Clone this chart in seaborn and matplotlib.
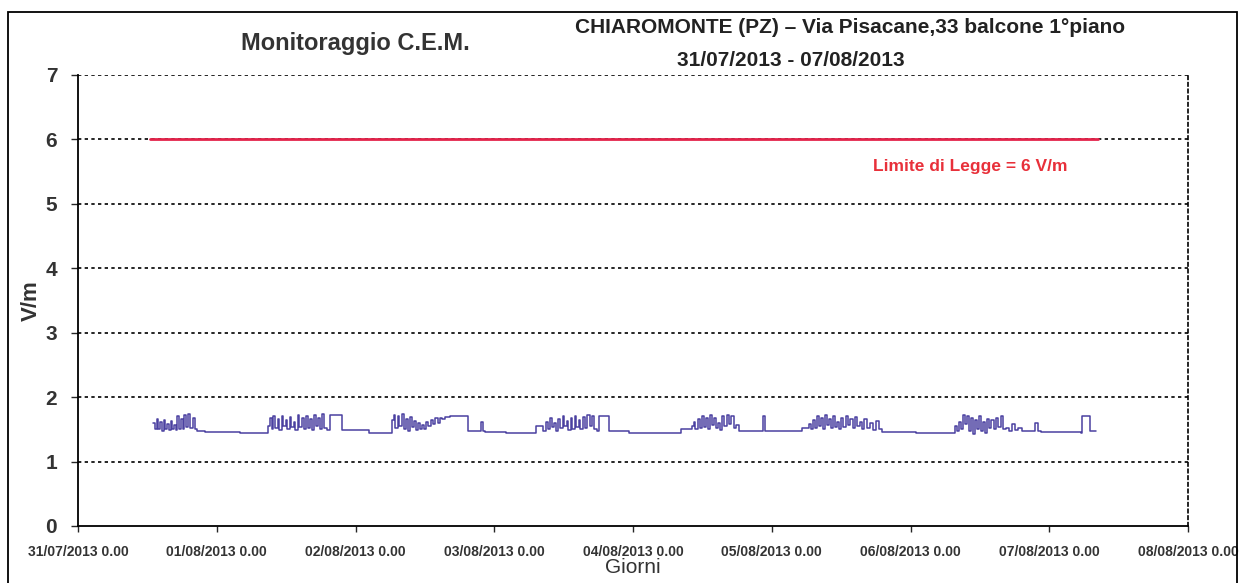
import numpy as np
import pandas as pd
import matplotlib
matplotlib.use("Agg")
import matplotlib.pyplot as plt
import seaborn as sns
from matplotlib.patches import Rectangle

# measurement data: hours since 31/07/2013 0.00 and field value (V/m)
hours = [13.0, 13.3, 13.6, 13.9, 14.2, 14.5, 14.8, 15.1, 15.4, 15.7, 16.0, 16.3, 16.6, 16.9,
         17.2, 17.5, 17.8, 18.1, 18.4, 18.7, 19.0, 19.4, 19.8, 20.2, 20.6,
         22.0, 26.0, 28.0, 31.0, 32.6,
         32.8, 33.2, 33.5, 33.8, 34.1, 34.5, 34.8, 35.2, 35.5, 35.9, 36.2, 36.6, 36.9, 37.3,
         37.6, 38.0, 38.3, 38.7, 39.0, 39.4, 39.7, 40.1, 40.4, 40.8, 41.1, 41.5, 41.8, 42.2,
         42.6, 43.0, 43.5, 45.6, 50.4, 54.3,
         54.6, 54.9, 55.3, 55.6, 56.0, 56.3, 56.7, 57.0, 57.4, 57.7, 58.1, 58.4, 58.8, 59.1,
         59.5, 59.8, 60.2, 60.6, 61.0, 61.4, 61.8, 62.2, 62.6, 63.0, 63.5, 64.3,
         67.4, 69.7, 70.0, 70.4, 74.0, 79.2,
         80.5, 81.0, 81.3, 81.7, 82.0, 82.4, 82.7, 83.1, 83.4, 83.8, 84.1, 84.5, 84.8, 85.2,
         85.5, 85.9, 86.2, 86.6, 86.9, 87.3, 87.7, 88.1, 88.5, 88.9, 89.3, 89.7,
         90.1, 91.9, 95.3, 104.3,
         106.2, 106.5, 106.8, 107.2, 107.5, 107.9, 108.2, 108.6, 108.9, 109.3, 109.6, 110.0,
         110.3, 110.7, 111.0, 111.4, 111.8, 112.2, 112.6, 113.0, 113.4, 113.8, 114.3,
         118.4, 118.8, 125.2,
         126.4, 126.7, 127.1, 127.4, 127.8, 128.1, 128.5, 128.8, 129.2, 129.5, 129.9, 130.2,
         130.6, 130.9, 131.3, 131.6, 132.0, 132.4, 132.8, 133.2, 133.6, 134.0, 134.4, 134.8,
         135.2, 135.6, 136.0, 136.5, 137.0, 137.5, 138.0, 138.5, 139.0, 145.0,
         151.7, 152.0, 152.4, 152.7, 153.1, 153.4, 153.8, 154.1, 154.5, 154.8, 155.2, 155.5,
         155.9, 156.2, 156.6, 156.9, 157.3, 157.6, 158.0, 158.4, 158.8, 159.2, 159.6, 160.0,
         160.5, 161.0, 161.6, 162.0, 162.6, 163.2,
         165.6, 166.0, 166.6, 173.5, 173.6, 175.0, 176.0]
values = [1.60, 1.50, 1.66, 1.51, 1.61, 1.48, 1.64, 1.50, 1.58, 1.49, 1.63, 1.50, 1.56, 1.49,
          1.70, 1.51, 1.66, 1.50, 1.72, 1.53, 1.74, 1.52, 1.68, 1.50, 1.48,
          1.46, 1.46, 1.44, 1.45, 1.44,
          1.55, 1.68, 1.50, 1.70, 1.52, 1.66, 1.49, 1.71, 1.55, 1.64, 1.50, 1.69, 1.53, 1.62,
          1.49, 1.72, 1.54, 1.67, 1.50, 1.70, 1.52, 1.66, 1.49, 1.73, 1.55, 1.68, 1.51, 1.74,
          1.52, 1.49, 1.72, 1.49, 1.44, 1.64,
          1.72, 1.52, 1.70, 1.55, 1.74, 1.50, 1.66, 1.48, 1.69, 1.53, 1.63, 1.49, 1.60, 1.50,
          1.57, 1.51, 1.62, 1.55, 1.65, 1.58, 1.67, 1.60, 1.68, 1.66, 1.69, 1.70,
          1.48, 1.62, 1.48, 1.46, 1.44, 1.55,
          1.48, 1.62, 1.50, 1.68, 1.53, 1.60, 1.48, 1.66, 1.52, 1.70, 1.55, 1.63, 1.49, 1.67,
          1.51, 1.71, 1.54, 1.64, 1.50, 1.69, 1.52, 1.72, 1.55, 1.70, 1.50, 1.47,
          1.71, 1.47, 1.44, 1.50,
          1.55, 1.62, 1.50, 1.66, 1.52, 1.70, 1.54, 1.67, 1.51, 1.72, 1.56, 1.68,
          1.52, 1.60, 1.49, 1.70, 1.55, 1.72, 1.58, 1.70, 1.52, 1.56, 1.47,
          1.70, 1.47, 1.52,
          1.58, 1.50, 1.64, 1.52, 1.70, 1.55, 1.68, 1.51, 1.72, 1.57, 1.66, 1.52,
          1.70, 1.54, 1.62, 1.50, 1.68, 1.53, 1.71, 1.56, 1.66, 1.52, 1.69, 1.55,
          1.62, 1.50, 1.66, 1.52, 1.60, 1.49, 1.63, 1.50, 1.46, 1.45,
          1.55, 1.48, 1.62, 1.50, 1.72, 1.58, 1.70, 1.47, 1.68, 1.42, 1.65, 1.50,
          1.70, 1.48, 1.62, 1.44, 1.66, 1.52, 1.64, 1.50, 1.68, 1.54, 1.70, 1.50,
          1.52, 1.48, 1.58, 1.49, 1.52, 1.47,
          1.60, 1.48, 1.46, 1.45, 1.71, 1.47, 1.47]

limit_hours = [12.5, 176.5]
limit_values = [6, 6]

tick_hours = [0, 24, 48, 72, 96, 120, 144, 168, 192]
tick_labels = ["31/07/2013 0.00", "01/08/2013 0.00", "02/08/2013 0.00", "03/08/2013 0.00",
               "04/08/2013 0.00", "05/08/2013 0.00", "06/08/2013 0.00", "07/08/2013 0.00",
               "08/08/2013 0.00"]

df = pd.DataFrame({"ore": hours, "vm": values})
lim = pd.DataFrame({"ore": limit_hours, "vm": limit_values})

sns.set_style("white")
plt.rcParams['font.family'] = ['Liberation Sans Narrow', 'Liberation Sans', 'DejaVu Sans']

fig = plt.figure(figsize=(12.41, 5.83), dpi=100)
ax = fig.add_axes([0.0629, 0.0978, 0.8944, 0.7736])

sns.lineplot(data=lim, x="ore", y="vm", color="#e3234a", linewidth=2, ax=ax)
sns.lineplot(data=df, x="ore", y="vm", color="#4a40a0", linewidth=1.1,
             drawstyle="steps-post", ax=ax)

ax.set_xlim(0, 192)
ax.set_ylim(0, 7)
ax.set_yticks(range(0, 8))
ax.set_xticks(tick_hours)
ax.set_xticklabels(tick_labels, fontsize=10, fontweight="bold", color="#333333")
ax.tick_params(axis="y", labelsize=15, direction="out", length=5, width=1, pad=10,
               labelcolor="#333333")
ax.tick_params(axis="x", direction="out", length=4, width=1, pad=10)
ax.tick_params(axis="both", which="both", left=True, bottom=True)
for lbl in ax.get_yticklabels():
    lbl.set_fontweight("bold")

for y in range(1, 8):
    ax.axhline(y, color="black", linestyle=(0, (2, 2)), linewidth=1.2, zorder=0)

ax.spines["left"].set_color("black")
ax.spines["bottom"].set_color("black")
ax.spines["left"].set_linewidth(1.3)
ax.spines["bottom"].set_linewidth(1.3)
ax.spines["top"].set_visible(False)
ax.spines["right"].set_linestyle((0, (2, 2)))
ax.spines["right"].set_color("black")
ax.spines["right"].set_linewidth(1.2)

ax.set_xlabel("Giorni", fontsize=15, color="#333333")
ax.xaxis.set_label_coords(0.5, -0.072)
ax.set_ylabel("V/m", fontsize=16, fontweight="bold", color="#333333")
ax.yaxis.set_label_coords(-0.033, 0.5)

ax.text(0.804, 0.797, "Limite di Legge = 6 V/m", transform=ax.transAxes, color="#e8303a",
        fontsize=12.5, fontweight="bold", ha="center", va="center")

fig.text(0.286, 0.925, "Monitoraggio C.E.M.", fontsize=17, fontweight="bold",
         color="#333333", ha="center", va="center", family="Liberation Sans")
fig.text(0.685, 0.952, "CHIAROMONTE (PZ) \u2013 Via Pisacane,33 balcone 1\u00b0piano",
         fontsize=15, fontweight="bold", color="#222222", ha="center", va="center")
fig.text(0.637, 0.897, "31/07/2013 - 07/08/2013", fontsize=15, fontweight="bold",
         color="#222222", ha="center", va="center")

# outer frame
fig.patches.append(Rectangle((0.0065, -0.05), 0.9905, 1.03, transform=fig.transFigure,
                             fill=False, edgecolor="black", linewidth=1.3))

fig.savefig("out.png", dpi=100)
